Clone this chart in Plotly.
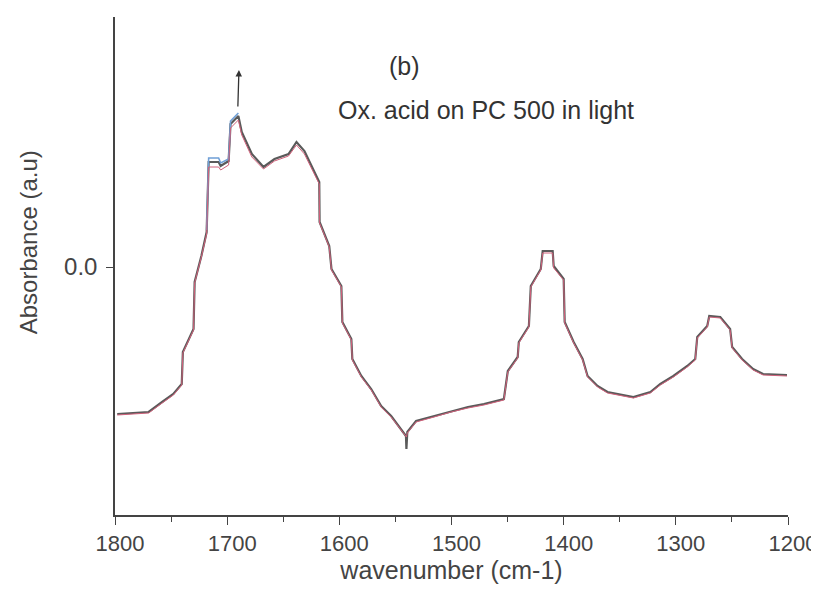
import plotly.graph_objects as go

# Wavenumber (cm-1) sample points
wn = [1798, 1770, 1758, 1748, 1740.5, 1739.5, 1730, 1729, 1723, 1718.3, 1716.5,
      1707.6, 1705.8, 1698.7, 1697, 1690, 1687, 1678, 1667.6, 1657.8, 1645.3, 1638.2,
      1631.1, 1624.9, 1617.9, 1617.6, 1609, 1607, 1598.2, 1597.3, 1589.3, 1588.4,
      1580.4, 1571.6, 1562.7, 1553.8, 1540.6, 1540.2, 1539.4, 1531.6, 1515.6, 1500.4,
      1485.3, 1471.1, 1453.3, 1449.8, 1441, 1440, 1431, 1429.3, 1420.4, 1418.7,
      1409.8, 1408.9, 1400, 1399.1, 1391.1, 1383.1, 1378.7, 1369.8, 1360.9, 1337.8,
      1322.7, 1313.8, 1302.2, 1289.8, 1282.7, 1280.9, 1272, 1270.2, 1260.4, 1251.6,
      1249.8, 1240.9, 1231.1, 1222.2, 1200.9]

# Absorbance of the spectra (a.u.)
abs_gray = [-0.147, -0.145, -0.135, -0.127, -0.117, -0.085, -0.062, -0.015, 0.011, 0.035, 0.105,
            0.105, 0.101, 0.106, 0.143, 0.151, 0.135, 0.113, 0.100, 0.108, 0.113, 0.125,
            0.116, 0.101, 0.085, 0.045, 0.021, -0.002, -0.019, -0.055, -0.072, -0.092,
            -0.109, -0.122, -0.139, -0.149, -0.169, -0.182, -0.165, -0.154, -0.149, -0.144,
            -0.140, -0.137, -0.132, -0.104, -0.090, -0.075, -0.059, -0.019, -0.002, 0.016,
            0.016, 0.001, -0.012, -0.055, -0.075, -0.092, -0.109, -0.119, -0.125, -0.130,
            -0.125, -0.117, -0.109, -0.099, -0.092, -0.070, -0.059, -0.049, -0.050, -0.062,
            -0.080, -0.092, -0.102, -0.107, -0.108]

abs_red = [-0.148, -0.146, -0.136, -0.128, -0.118, -0.086, -0.063, -0.016, 0.010, 0.033, 0.100,
           0.100, 0.097, 0.102, 0.139, 0.147, 0.132, 0.110, 0.098, 0.106, 0.111, 0.122,
           0.113, 0.099, 0.083, 0.044, 0.020, -0.003, -0.020, -0.056, -0.073, -0.093,
           -0.110, -0.123, -0.140, -0.150, -0.170, -0.170, -0.166, -0.155, -0.150, -0.145,
           -0.141, -0.138, -0.133, -0.105, -0.091, -0.076, -0.060, -0.020, -0.003, 0.014,
           0.014, -0.001, -0.013, -0.056, -0.076, -0.093, -0.110, -0.120, -0.126, -0.131,
           -0.126, -0.118, -0.110, -0.100, -0.093, -0.071, -0.060, -0.050, -0.051, -0.063,
           -0.081, -0.093, -0.103, -0.108, -0.109]

wn_blue = [1718.3, 1716.5, 1707.6, 1705.8, 1698.7, 1697, 1690]
abs_blue = [0.037, 0.109, 0.109, 0.104, 0.108, 0.146, 0.154]

x_ticks = [1800, 1700, 1600, 1500, 1400, 1300, 1200]

fig = go.Figure()
fig.add_trace(go.Scatter(x=wn, y=abs_gray, mode="lines",
                         line=dict(color="#5a5a5a", width=2.2)))
fig.add_trace(go.Scatter(x=wn_blue, y=abs_blue, mode="lines",
                         line=dict(color="#6f9fd6", width=1.6)))
fig.add_trace(go.Scatter(x=wn, y=abs_red, mode="lines",
                         line=dict(color="#d0607a", width=1.0)))

font = "Liberation Sans, Arial, sans-serif"
fig.add_annotation(x=1689.5, y=0.197, ax=1690.5, ay=0.159, xref="x", yref="y",
                   axref="x", ayref="y", showarrow=True, arrowhead=2,
                   arrowsize=1, arrowwidth=1.3, arrowcolor="#333", text="")
fig.add_annotation(x=1542, y=0.201, xref="x", yref="y", text="(b)", showarrow=False,
                   font=dict(family=font, size=25, color="#333"))
fig.add_annotation(x=1469, y=0.157, xref="x", yref="y",
                   text="Ox. acid on PC 500 in light", showarrow=False,
                   font=dict(family=font, size=25, color="#333"))
# y-axis title (placed a little above the plot centre, as in the reference)
fig.add_annotation(x=-0.129, y=0.548, xref="paper", yref="paper",
                   xanchor="center", yanchor="middle",
                   text="Absorbance (a.u)", textangle=-90, showarrow=False,
                   font=dict(family=font, size=24, color="#444"))

fig.update_layout(
    width=811, height=583,
    margin=dict(l=107, r=31, t=9, b=76),
    paper_bgcolor="white", plot_bgcolor="white",
    showlegend=False,
    font=dict(family=font, size=24, color="#444"),
)
fig.update_xaxes(range=[1800, 1200], tickvals=x_ticks, ticks="outside", ticklen=8,
                 tickwidth=1.3, tickcolor="#444", showline=True, linecolor="#444",
                 linewidth=1.5, showgrid=False, zeroline=False, automargin=False,
                 ticklabelshift=-5,
                 minor=dict(dtick=50, ticks="outside", ticklen=5, tickcolor="#444"),
                 title=dict(text="wavenumber (cm-1)", standoff=4,
                            font=dict(size=25, color="#444")),
                 tickfont=dict(size=22, color="#444"))
fig.update_yaxes(range=[-0.248, 0.250], tickvals=[0.0], ticktext=["0.0"], ticks="outside",
                 ticklen=7, tickwidth=1.3, tickcolor="#444", showline=True,
                 linecolor="#444", linewidth=1.5, showgrid=False, zeroline=False,
                 automargin=False, ticklabelstandoff=4,
                 tickfont=dict(size=24, color="#444"))

fig.write_html("out.html", default_width="811px", default_height="583px",
               post_script="document.documentElement.style.overflow='hidden';"
                           "document.body.style.overflow='hidden';")
